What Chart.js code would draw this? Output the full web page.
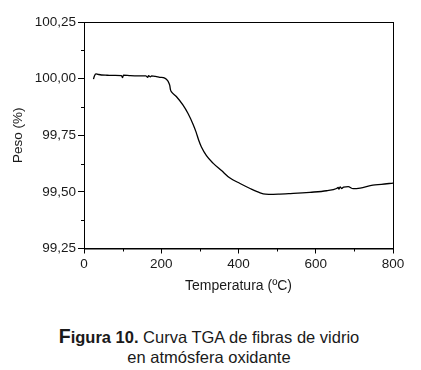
<!DOCTYPE html>
<html>
<head>
<meta charset="utf-8">
<script src="https://cdn.jsdelivr.net/npm/chart.js@4.4.1/dist/chart.umd.min.js"></script>
<style>
  html, body { margin: 0; padding: 0; background: #fff; }
  #wrap { position: relative; width: 421px; height: 370px; overflow: hidden; }
  #box { position: absolute; left: 0; top: 0; width: 421px; height: 300px; }
  #caption { position: absolute; left: 0; top: 326px; width: 418px; text-align: center;
    font-family: "Liberation Sans", Arial, sans-serif; font-size: 16.5px; color: #1a1a1a; }
  #caption div { line-height: 20px; white-space: nowrap; }
  .big { font-weight: bold; font-size: 19.5px; }
  .bold { font-weight: bold; font-size: 16.5px; }
</style>
</head>
<body>
<div id="wrap">
  <div id="box"><canvas id="c" width="421" height="300"></canvas></div>
  <div id="caption">
    <div><span class="big">F</span><span class="bold">igura 10.</span> Curva TGA de fibras de vidrio</div>
    <div>en atmósfera oxidante</div>
  </div>
</div>
<script>
// ---- data ----
const temperatures = [24.6, 27, 31, 36, 45, 60, 80, 97, 100, 102, 120, 140, 160, 165, 167, 172, 175, 185, 196, 209,
  217, 220, 222, 224, 226, 239, 256, 269, 282, 290, 297, 304, 317, 334, 356, 377, 404,
  430, 456, 470, 490, 507, 530, 542, 585, 628, 654, 658, 660, 663, 667, 672, 684, 697, 715, 748, 770, 800];
const weights = [99.998, 100.012, 100.021, 100.019, 100.016, 100.015, 100.014, 100.013, 100.004, 100.015,
  100.013, 100.012, 100.012, 100.006, 100.013, 100.008, 100.012, 100.010, 100.006, 100.002,
  99.990, 99.980, 99.970, 99.950, 99.943, 99.921, 99.884, 99.847, 99.800, 99.765, 99.728,
  99.698, 99.660, 99.627, 99.594, 99.562, 99.537,
  99.515, 99.496, 99.490, 99.489, 99.490, 99.492, 99.493, 99.498, 99.505, 99.515, 99.520, 99.512,
  99.522, 99.515, 99.521, 99.523, 99.514, 99.517, 99.530, 99.533, 99.539];
const xTicks = [0, 200, 400, 600, 800];
const yTicks = [99.25, 99.50, 99.75, 100.00, 100.25];
const xTitle = "Temperatura (ºC)";
const yTitle = "Peso (%)";

const points = temperatures.map((t, i) => ({ x: t, y: weights[i] }));
const FONT = '"Liberation Sans", Arial, sans-serif';
const TXT = '#1a1a1a';

const framePlugin = {
  id: 'frame',
  afterDraw(chart) {
    const { ctx, chartArea: a, scales } = chart;
    ctx.save();
    ctx.strokeStyle = '#000';
    ctx.lineWidth = 1;
    ctx.strokeRect(a.left + 0.5, a.top + 0.5, a.right - a.left, a.bottom - a.top);
    // minor ticks
    ctx.beginPath();
    for (let i = 0; i < xTicks.length - 1; i++) {
      const px = Math.round(scales.x.getPixelForValue((xTicks[i] + xTicks[i + 1]) / 2)) + 0.5;
      ctx.moveTo(px, a.bottom);
      ctx.lineTo(px, a.bottom + 3);
    }
    for (let i = 0; i < yTicks.length - 1; i++) {
      const py = Math.round(scales.y.getPixelForValue((yTicks[i] + yTicks[i + 1]) / 2)) + 0.5;
      ctx.moveTo(a.left, py);
      ctx.lineTo(a.left - 3, py);
    }
    ctx.stroke();
    ctx.restore();
  }
};

new Chart(document.getElementById('c'), {
  type: 'scatter',
  data: {
    datasets: [{
      data: points,
      showLine: true,
      borderColor: '#000',
      borderWidth: 1.3,
      pointRadius: 0,
      cubicInterpolationMode: 'monotone',
      fill: false
    }]
  },
  options: {
    responsive: false,
    animation: false,
    layout: { padding: { left: 0, top: 22, right: 28, bottom: 0 } },
    plugins: { legend: { display: false }, tooltip: { enabled: false } },
    scales: {
      x: {
        type: 'linear', min: 0, max: 800,
        afterFit(s) { s.height = 51.5; },
        afterBuildTicks(s) { s.ticks = xTicks.map(v => ({ value: v })); },
        ticks: { color: TXT, font: { family: FONT, size: 13.5 }, padding: 3, maxRotation: 0,
          callback: v => String(v) },
        grid: { drawOnChartArea: false, tickLength: 5, color: '#000', tickColor: '#000' },
        border: { display: true, color: '#000', width: 1 },
        title: { display: true, text: xTitle, color: TXT, font: { family: FONT, size: 14 },
          padding: { top: 0, bottom: 5.5 } }
      },
      y: {
        type: 'linear', min: 99.25, max: 100.25,
        afterFit(s) { s.width = 84; },
        afterBuildTicks(s) { s.ticks = yTicks.map(v => ({ value: v })); },
        ticks: { color: TXT, font: { family: FONT, size: 13.5 }, padding: 2,
          callback: v => v.toFixed(2).replace('.', ',') },
        grid: { drawOnChartArea: false, tickLength: 6, color: '#000', tickColor: '#000' },
        border: { display: true, color: '#000', width: 1 },
        title: { display: true, text: yTitle, color: TXT, font: { family: FONT, size: 13.5 },
          padding: { top: 10, bottom: 0 } }
      }
    }
  },
  plugins: [framePlugin]
});
</script>
</body>
</html>
